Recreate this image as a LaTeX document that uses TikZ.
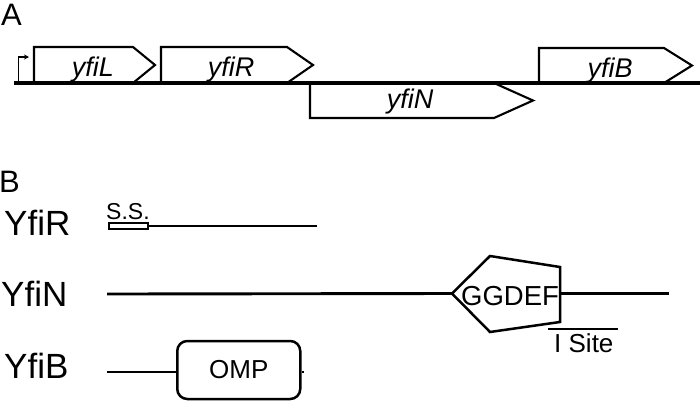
\documentclass[tikz,border=0pt]{standalone}
\usepackage{fontspec}
\setmainfont{Liberation Sans}
\usetikzlibrary{arrows.meta}
\begin{document}
\begin{tikzpicture}[x=1pt,y=-1pt,
  gene/.style={draw, line width=2.1pt, fill=white, line join=miter},
  glabel/.style={font=\fontsize{27}{27}\selectfont\itshape, inner sep=0, anchor=base},
  plabel/.style={font=\fontsize{35}{35}\selectfont, inner sep=0, anchor=base west},
  panel/.style={font=\fontsize{31}{31}\selectfont, inner sep=0, anchor=base west},
  dlabel/.style={inner sep=0, anchor=base},
  chain/.style={line width=2.9pt},
  dom/.style={draw, line width=2.5pt, line join=miter, fill=white}]
\useasboundingbox (0,0) rectangle (700,400);

% ---------- Panel A ----------
\node[panel] (pA) at (1,25) {A};
% genes
\draw[gene] (34,83) -- (34,47) -- (133,47) -- (155,65) -- (133,83);
\node[glabel] (yfiL) at (93,76) {yfiL};
\draw[gene] (161,83) -- (161,47) -- (287,47) -- (313,65) -- (287,83);
\node[glabel] (yfiR) at (231,76) {yfiR};
\draw[gene] (310,83) -- (310,118) -- (494,118) -- (533,100.5) -- (494,83);
\node[glabel] (yfiN) at (410,108) {yfiN};
\draw[gene] (539,83) -- (539,48) -- (664,48) -- (692,65.5) -- (664,83);
\node[glabel] (yfiB) at (610,77) {yfiB};
% chromosome line
\coordinate (bl) at (14,83);
\coordinate (br) at (700,83);
\draw[line width=3.3pt] (bl) -- (br);
% promoter
\coordinate (p0) at (18.5,83);
\coordinate (p1) at (18.5,57);
\coordinate (p2) at (29,57);
\draw[line width=1.8pt, -{Stealth[length=5pt,width=5pt]}] (p0) -- (p1) -- (p2);

% ---------- Panel B ----------
\node[panel] (pB) at (-1,192) {B};

% YfiR
\node[plabel] (YfiR) at (4,235) {YfiR};
\node[draw, line width=1.8pt, minimum width=39pt, minimum height=6pt, inner sep=0, anchor=west] (ss) at (108,226) {};
\node[dlabel, anchor=base west, font=\fontsize{23}{23}\selectfont] (sst) at (106,219) {S.S.};
\coordinate (rend) at (317,226);
\draw[chain] (ss.east) -- (rend);

% YfiN
\node[plabel] (YfiN) at (1,306) {YfiN};
\coordinate (nstart) at (107,294);
\coordinate (g1) at (452,293.5);
\coordinate (g2) at (490,256);
\coordinate (g3) at (560,267);
\coordinate (g4) at (560,322);
\coordinate (g5) at (490,332);
\coordinate (g6) at (560,293.5);
\coordinate (nend) at (669,293.5);
\draw[chain] (nstart) -- (g1);
\draw[chain] (g6) -- (nend);
\draw[dom, fill=none] (g1) -- (g2) -- (g3) -- (g4) -- (g5) -- cycle;
\node[dlabel, font=\fontsize{27.5}{27.5}\selectfont] (ggdef) at (510,305) {GGDEF};
\coordinate (is1) at (548,329);
\coordinate (is2) at (618,329);
\draw[line width=2.4pt] (is1) -- (is2);
\node[dlabel, anchor=base west, font=\fontsize{26}{26}\selectfont] (isite) at (554,352) {I Site};

% YfiB
\node[plabel] (YfiB) at (4,378) {YfiB};
\node[dom, rounded corners=10pt, minimum width=123pt, minimum height=58pt, inner sep=0, anchor=west,
  font=\fontsize{26}{26}\selectfont] (omp) at (176,370) {OMP};
\coordinate (bstart) at (107,372);
\coordinate (bend) at (304,372);
\draw[chain] (bstart) -- (omp.west |- bstart);
\draw[chain] (omp.east |- bend) -- (bend);
\end{tikzpicture}
\end{document}
